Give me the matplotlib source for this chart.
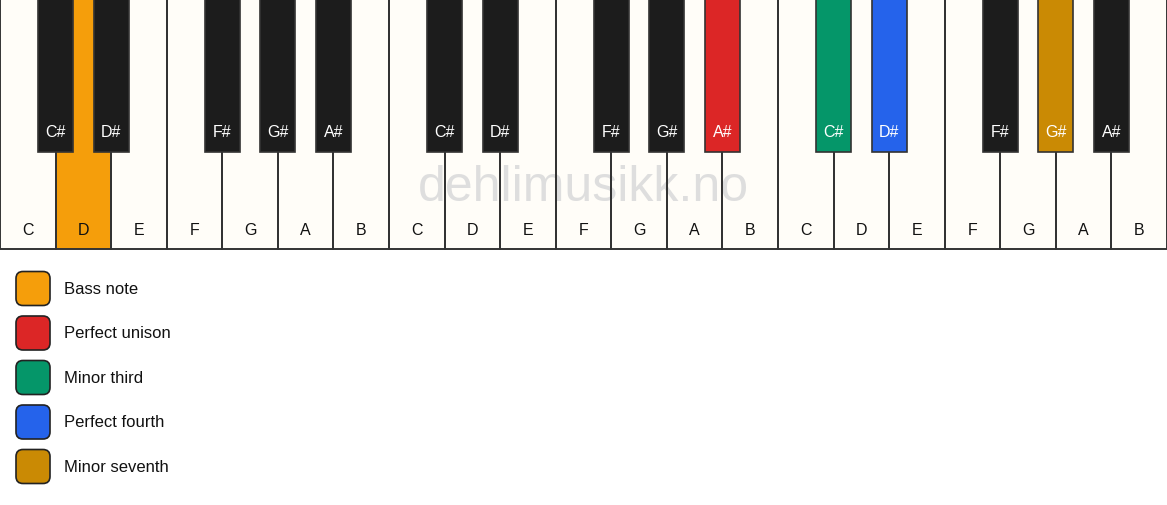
import matplotlib.pyplot as plt
from matplotlib.patches import Rectangle, FancyBboxPatch

# keyboard layout: 3 octaves
white_names = ["C", "D", "E", "F", "G", "A", "B"]
black_names = ["C#", "D#", None, "F#", "G#", "A#", None]  # sharp to the right of each white key
octaves = 3

# highlighted keys: (octave, note name) -> colour
highlights = {
    (0, "D"): "#F59E0B",
    (1, "A#"): "#DC2626",
    (2, "C#"): "#059669",
    (2, "D#"): "#2563EB",
    (2, "G#"): "#CA8A04",
}

legend_labels = ["Bass note", "Perfect unison", "Minor third", "Perfect fourth", "Minor seventh"]
legend_colors = ["#F59E0B", "#DC2626", "#059669", "#2563EB", "#CA8A04"]

W, H = 1167, 506
fig = plt.figure(figsize=(W / 100, H / 100), dpi=100)
ax = fig.add_axes([0, 0, 1, 1])
ax.set_xlim(0, W)
ax.set_ylim(H, 0)
ax.axis("off")

n_white = len(white_names) * octaves
kw = W / n_white
white_h = 250
black_w = 35
black_h = 153
edge = "#333333"
font = "Liberation Sans"

# white keys (fill first, outline above the watermark)
for i in range(n_white):
    octv, k = divmod(i, 7)
    name = white_names[k]
    col = highlights.get((octv, name), "#FFFDF8")
    ax.add_patch(Rectangle((i * kw, 0), kw, white_h, facecolor=col,
                           edgecolor="none", zorder=1))
    ax.add_patch(Rectangle((i * kw, 0), kw, white_h, facecolor="none",
                           edgecolor=edge, linewidth=1.4, zorder=2))
    ax.text(i * kw + kw / 2, 235, name, ha="center", va="baseline",
            fontsize=11.5, color="#111111", family=font, zorder=5)

# watermark
ax.text(W / 2, 201, "dehlimusikk.no", ha="center", va="baseline",
        fontsize=36, color="#DEDEDE", family=font, zorder=1.5)

# black keys
for i in range(n_white):
    octv, k = divmod(i, 7)
    name = black_names[k]
    if name is None:
        continue
    cx = (i + 1) * kw
    col = highlights.get((octv, name), "#1C1C1C")
    ax.add_patch(Rectangle((cx - black_w / 2, -2), black_w, black_h + 2,
                           facecolor=col, edgecolor=edge, linewidth=1.2, zorder=3))
    ax.text(cx, 137, name, ha="center", va="baseline", fontsize=11.5,
            color="white", family=font, zorder=5)

# legend
for j, (lab, col) in enumerate(zip(legend_labels, legend_colors)):
    cy = 289.5 + j * 44.5
    ax.add_patch(FancyBboxPatch((16 + 7, cy - 17 + 7), 34 - 14, 34 - 14,
                                boxstyle="round,pad=7", facecolor=col,
                                edgecolor="#222222", linewidth=1.2, zorder=3))
    ax.text(64, cy, lab, ha="left", va="center", fontsize=12,
            color="#111111", family=font)

fig.savefig("out.png", dpi=100)
